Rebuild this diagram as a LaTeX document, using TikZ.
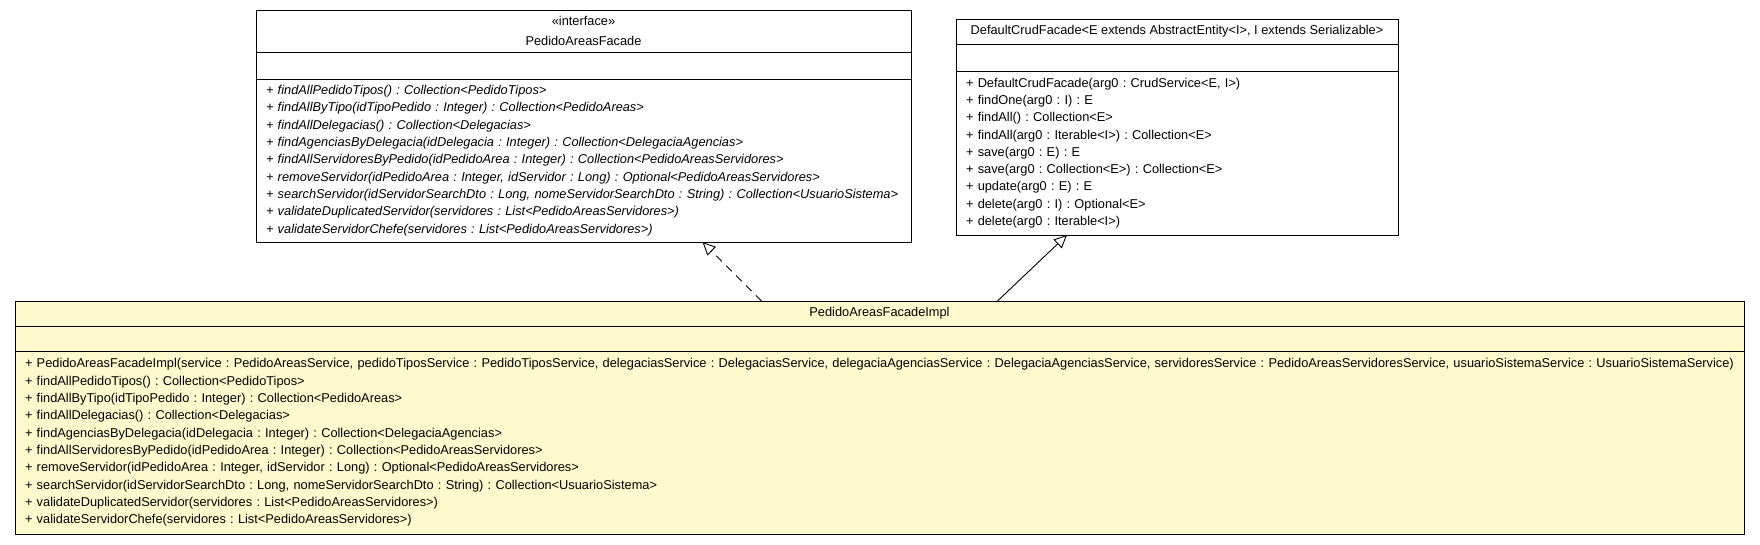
\documentclass[tikz,border=0pt]{standalone}
\usepackage{fontspec}
\setmainfont{Liberation Sans}
\usetikzlibrary{positioning,arrows.meta}
\definecolor{implfill}{HTML}{FFFACD}
\frenchspacing
\hyphenpenalty=10000

\begin{document}
\begin{tikzpicture}[x=1pt,y=1pt,
    font=\fontsize{12.8}{17.3}\selectfont,
    cell/.style={draw,line width=1pt,inner sep=0pt,outer sep=0pt},
    namecell/.style={cell,align=center},
    opscell/.style={cell,align=left,inner xsep=10pt},
    realize/.style={line width=0.9pt,dash pattern=on 8pt off 6pt,
      -{Triangle[open,length=13pt,width=12pt]}},
    extend/.style={line width=0.9pt,-{Triangle[open,length=13pt,width=12pt]}}]
  \useasboundingbox (0,0) rectangle (1760,-544);

  \node[namecell,minimum width=655pt,minimum height=42pt] (ifacename) at (583.5,-31)
    {«interface»\\[2pt]PedidoAreasFacade};
  \node[cell,minimum width=655pt,minimum height=27pt,below=0pt of ifacename] (ifaceattr) {};
  \node[opscell,text width=635pt,minimum height=163pt,below=0pt of ifaceattr] (ifaceops)
    {\itshape
     + findAllPedidoTipos() : Collection<PedidoTipos>\\
     + findAllByTipo(idTipoPedido : Integer) : Collection<PedidoAreas>\\
     + findAllDelegacias() : Collection<Delegacias>\\
     + findAgenciasByDelegacia(idDelegacia : Integer) : Collection<DelegaciaAgencias>\\
     + findAllServidoresByPedido(idPedidoArea : Integer) : Collection<PedidoAreasServidores>\\
     + removeServidor(idPedidoArea : Integer, idServidor : Long) : Optional<PedidoAreasServidores>\\
     + searchServidor(idServidorSearchDto : Long, nomeServidorSearchDto : String) : Collection<UsuarioSistema>\\
     + validateDuplicatedServidor(servidores : List<PedidoAreasServidores>)\\
     + validateServidorChefe(servidores : List<PedidoAreasServidores>)};

  \node[namecell,minimum width=442pt,minimum height=25pt] (crudname) at (1177,-31.5)
    {DefaultCrudFacade<E extends AbstractEntity<I>, I extends Serializable>};
  \node[cell,minimum width=442pt,minimum height=27pt,below=0pt of crudname] (crudattr) {};
  \node[opscell,text width=422pt,minimum height=164pt,below=0pt of crudattr] (crudops)
    {+ DefaultCrudFacade(arg0 : CrudService<E, I>)\\
     + findOne(arg0 : I) : E\\
     + findAll() : Collection<E>\\
     + findAll(arg0 : Iterable<I>) : Collection<E>\\
     + save(arg0 : E) : E\\
     + save(arg0 : Collection<E>) : Collection<E>\\
     + update(arg0 : E) : E\\
     + delete(arg0 : I) : Optional<E>\\
     + delete(arg0 : Iterable<I>)};

  \node[namecell,fill=implfill,minimum width=1729pt,minimum height=25pt] (implname) at (879.5,-313.5)
    {PedidoAreasFacadeImpl};
  \node[cell,fill=implfill,minimum width=1729pt,minimum height=25pt,below=0pt of implname] (implattr) {};
  \node[opscell,fill=implfill,text width=1709pt,minimum height=183pt,below=0pt of implattr] (implops)
    {+ PedidoAreasFacadeImpl(service : PedidoAreasService, pedidoTiposService : PedidoTiposService, delegaciasService : DelegaciasService, delegaciaAgenciasService : DelegaciaAgenciasService, servidoresService : PedidoAreasServidoresService, usuarioSistemaService : UsuarioSistemaService)\\
     + findAllPedidoTipos() : Collection<PedidoTipos>\\
     + findAllByTipo(idTipoPedido : Integer) : Collection<PedidoAreas>\\
     + findAllDelegacias() : Collection<Delegacias>\\
     + findAgenciasByDelegacia(idDelegacia : Integer) : Collection<DelegaciaAgencias>\\
     + findAllServidoresByPedido(idPedidoArea : Integer) : Collection<PedidoAreasServidores>\\
     + removeServidor(idPedidoArea : Integer, idServidor : Long) : Optional<PedidoAreasServidores>\\
     + searchServidor(idServidorSearchDto : Long, nomeServidorSearchDto : String) : Collection<UsuarioSistema>\\
     + validateDuplicatedServidor(servidores : List<PedidoAreasServidores>)\\
     + validateServidorChefe(servidores : List<PedidoAreasServidores>)};

  \draw[realize] ([xshift=-118pt]implname.north) -- ([xshift=119pt]ifaceops.south);
  \draw[extend] ([xshift=118pt]implname.north) -- ([xshift=-110pt]crudops.south);
\end{tikzpicture}
\end{document}
